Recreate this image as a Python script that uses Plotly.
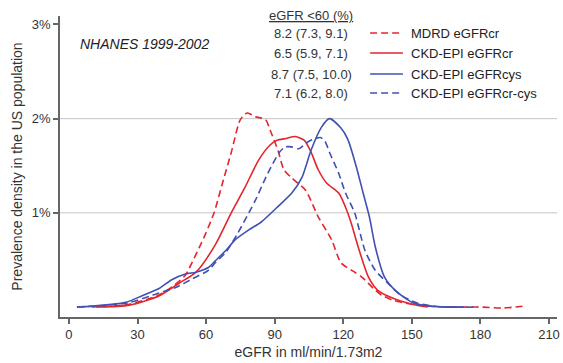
import plotly.graph_objects as go

# ---- data (eGFR in ml/min/1.73m2, prevalence density in %) ----
mdrd_x = [10, 26.5, 39.6, 46, 51, 54, 57, 60, 63.5, 67, 71, 75, 78, 81.6, 86, 88, 91.5, 94, 97.5, 103.5, 109, 115, 119, 125, 128, 134, 136.5, 142, 150, 164, 179, 190, 199]
mdrd_y = [0.0, 0.03, 0.13, 0.23, 0.34, 0.48, 0.63, 0.79, 1.0, 1.3, 1.64, 1.99, 2.06, 2.02, 1.99, 1.88, 1.66, 1.46, 1.37, 1.24, 0.96, 0.71, 0.47, 0.37, 0.32, 0.18, 0.13, 0.07, 0.03, 0.0, 0.0, -0.01, 0.01]

cr_x = [12, 26.5, 39.6, 48, 55.6, 64, 71, 77, 83, 88, 91, 95, 99, 103, 106, 109, 112.6, 118, 121, 123.5, 126.5, 131, 135, 141, 150, 157]
cr_y = [0.0, 0.02, 0.12, 0.25, 0.37, 0.66, 1.0, 1.27, 1.56, 1.72, 1.77, 1.79, 1.81, 1.77, 1.64, 1.46, 1.32, 1.21, 1.06, 0.89, 0.64, 0.32, 0.18, 0.1, 0.03, 0.0]

cys_x = [3.5, 10, 25, 32, 39.6, 45, 51, 55.6, 61, 64, 68.6, 73, 78.7, 84, 92, 97.5, 102, 106, 110.5, 114, 119, 122, 125.7, 128.7, 131.5, 134, 138, 142.6, 150, 157, 173]
cys_y = [0.0, 0.01, 0.05, 0.12, 0.2, 0.29, 0.35, 0.37, 0.42, 0.49, 0.6, 0.72, 0.82, 0.9, 1.08, 1.21, 1.38, 1.67, 1.91, 2.0, 1.9, 1.78, 1.49, 1.21, 0.95, 0.64, 0.32, 0.18, 0.05, 0.01, 0.0]

crcys_x = [3.5, 25, 39.5, 47, 54, 61, 64, 68.6, 74, 78.7, 81.7, 87, 92, 94.6, 97.5, 100.5, 105, 110, 112, 114, 118, 121, 125, 127, 129.5, 134, 139.6, 145, 152.6, 164, 179]
crcys_y = [0.0, 0.04, 0.15, 0.21, 0.3, 0.39, 0.47, 0.58, 0.79, 1.0, 1.14, 1.42, 1.64, 1.70, 1.70, 1.68, 1.76, 1.80, 1.76, 1.64, 1.42, 1.21, 1.0, 0.82, 0.6, 0.39, 0.25, 0.13, 0.04, 0.0, 0.0]

series_names = ["MDRD eGFRcr", "CKD-EPI eGFRcr", "CKD-EPI eGFRcys", "CKD-EPI eGFRcr-cys"]
prev_text = ["8.2 (7.3, 9.1)", "6.5 (5.9, 7.1)", "8.7 (7.5, 10.0)", "7.1 (6.2, 8.0)"]
x_ticks = [0, 30, 60, 90, 120, 150, 180, 210]
x_ticktext = ["0", "30", "60", "90", "120", "150", "180", "210"]
y_ticks = [1, 2, 3]
y_ticktext = ["1%", "2%", "3%"]

RED = "#e5252d"
BLUE = "#4150b3"
colors = [RED, RED, BLUE, BLUE]
dashes = ["7px,4px", "solid", "solid", "7px,4px"]
xs = [mdrd_x, cr_x, cys_x, crcys_x]
ys = [mdrd_y, cr_y, cys_y, crcys_y]

FONT = "Liberation Sans, Arial, sans-serif"
fig = go.Figure()
for i in range(4):
    fig.add_trace(go.Scatter(
        x=xs[i], y=ys[i], mode="lines", name=series_names[i],
        line=dict(color=colors[i], width=1.6, dash=dashes[i], shape="spline", smoothing=0.7),
        showlegend=False))

# gridlines at 1% and 2%
for gy in [1, 2]:
    fig.add_shape(type="line", xref="paper", x0=0, x1=1, yref="y", y0=gy, y1=gy,
                  line=dict(color="#c4c4c4", width=1), layer="below")

W, H = 563, 363
L, R, T, B = 60, 3, 16, 46
pw, ph = W - L - R, H - T - B

def px2paper(px, py):
    return (px - L) / pw, 1 - (py - T) / ph

# legend table
hx, hy = px2paper(313, 15)
fig.add_annotation(x=hx, y=hy, xref="paper", yref="paper", text="<u>eGFR <60 (%)</u>",
                   showarrow=False, font=dict(size=13, color="#333", family=FONT), xanchor="center", yanchor="middle")
row_y = [33, 53, 74, 93]
for i in range(4):
    nx, ny = px2paper(313, row_y[i])
    fig.add_annotation(x=nx, y=ny, xref="paper", yref="paper", text=prev_text[i],
                       showarrow=False, font=dict(size=13, color="#333", family=FONT), xanchor="center", yanchor="middle")
    lx0, _ = px2paper(372, row_y[i])
    lx1, _ = px2paper(405, row_y[i])
    fig.add_shape(type="line", xref="paper", yref="paper", x0=lx0, x1=lx1, y0=ny, y1=ny,
                  line=dict(color=colors[i], width=1.6, dash=dashes[i]))
    tx, _ = px2paper(411, row_y[i])
    fig.add_annotation(x=tx, y=ny, xref="paper", yref="paper", text=series_names[i],
                       showarrow=False, font=dict(size=13, color="#222", family=FONT), xanchor="left", yanchor="middle")

nxp, nyp = px2paper(145, 44)
fig.add_annotation(x=nxp, y=nyp, xref="paper", yref="paper", text="<i>NHANES 1999-2002</i>",
                   showarrow=False, font=dict(size=14, color="#222", family=FONT), xanchor="center", yanchor="middle")

fig.update_layout(
    width=W, height=H, autosize=False,
    margin=dict(l=L, r=R, t=T, b=B),
    paper_bgcolor="white", plot_bgcolor="white",
    font=dict(family=FONT, size=13, color="#333"),
    xaxis=dict(range=[-3.9, 213.5], tickmode="array", tickvals=x_ticks, ticktext=x_ticktext,
               ticklabeloverflow="allow", showgrid=False, zeroline=False,
               showline=True, linecolor="#666", linewidth=1.5, ticks="outside", ticklen=5,
               tickcolor="#666", tickwidth=1.5, tickfont=dict(size=13, color="#333"),
               title=dict(text="eGFR in ml/min/1.73m2", font=dict(size=14, color="#333"), standoff=6)),
    yaxis=dict(range=[-0.106, 3.09], tickvals=y_ticks, ticktext=y_ticktext, showgrid=False, zeroline=False,
               showline=True, linecolor="#666", linewidth=1.5, ticks="outside", ticklen=5,
               tickcolor="#666", tickwidth=1.5, tickfont=dict(size=13, color="#333"),
               title=dict(text="Prevalence density in the US population", font=dict(size=14, color="#333"), standoff=6)),
)
fig.write_html("out.html")
